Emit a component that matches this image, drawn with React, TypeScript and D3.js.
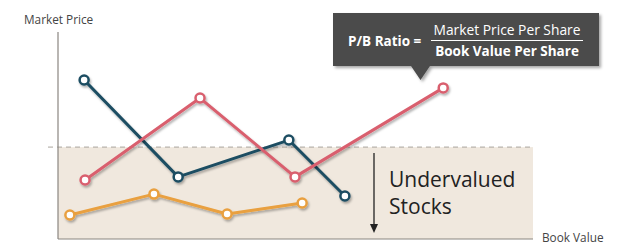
import React from "react";
import * as d3 from "d3";

const W = 620;
const H = 250;

const seriesNames = ["teal", "pink", "orange"];
const tealX = [5.5, 25.3, 48.6, 60.4];
const tealY = [76.8, 30, 47.8, 20.8];
const pinkX = [5.7, 29.9, 49.9, 81.1];
const pinkY = [28.5, 68.1, 30, 73];
const orangeX = [2.5, 20.2, 35.6, 51.4];
const orangeY = [11.6, 21.7, 12.1, 17.4];
const threshold = 44.4;
const colors = ["#1c4d62", "#d95f6e", "#e9a03f"];

const xLabel = "Book Value";
const yLabel = "Market Price";
const zoneLabel = ["Undervalued", "Stocks"];
const formulaLeft = "P/B Ratio =";
const formulaTop = "Market Price Per Share";
const formulaBottom = "Book Value Per Share";

const FONT = "'Open Sans', sans-serif";

export default function App() {
  const x = d3.scaleLinear().domain([0, 100]).range([58, 533]);
  const y = d3.scaleLinear().domain([0, 100]).range([239, 32]);
  const line = d3
    .line<[number, number]>()
    .x((d) => x(d[0]))
    .y((d) => y(d[1]));
  const series = [
    d3.zip(tealX, tealY) as [number, number][],
    d3.zip(pinkX, pinkY) as [number, number][],
    d3.zip(orangeX, orangeY) as [number, number][],
  ];
  const ty = y(threshold);
  return (
    <svg
      width={W}
      height={H}
      style={{ position: "absolute", left: 0, top: 0, background: "#fff" }}
    >
      <defs>
        <filter id="sh" x="-20%" y="-20%" width="140%" height="160%">
          <feDropShadow dx="1.2" dy="2" stdDeviation="1.2" floodColor="#000" floodOpacity="0.3" />
        </filter>
        <filter id="bsh" x="-10%" y="-20%" width="120%" height="160%">
          <feDropShadow dx="2" dy="2" stdDeviation="1.5" floodColor="#000" floodOpacity="0.35" />
        </filter>
      </defs>
      {/* undervalued zone */}
      <rect x={x(0)} y={ty} width={x(100) - x(0)} height={y(0) - ty} fill="#f0e8de" />
      <line x1={48} x2={x(100)} y1={ty} y2={ty} stroke="#aaa49e" strokeDasharray="5,4" strokeWidth={1} />
      {/* axes */}
      <line x1={x(0)} x2={x(0)} y1={y(100)} y2={y(0)} stroke="#8a8580" strokeWidth={1.2} />
      <line x1={x(0)} x2={x(100)} y1={y(0)} y2={y(0)} stroke="#8a8580" strokeWidth={1.2} />
      <text x={24} y={24} fontFamily={FONT} fontSize={11.8} fill="#444">{yLabel}</text>
      <text x={542} y={242} fontFamily={FONT} fontSize={11.8} fill="#444">{xLabel}</text>
      {/* arrow */}
      <line x1={374} x2={374} y1={153} y2={226} stroke="#222" strokeWidth={1.3} />
      <path d="M370,224 L374,233 L378,224 Z" fill="#222" />
      <text fontFamily={FONT} fontSize={21} fill="#222">
        <tspan x={389} y={187}>{zoneLabel[0]}</tspan>
        <tspan x={389} y={214}>{zoneLabel[1]}</tspan>
      </text>
      {/* series */}
      {series.map((s, i) => (
        <g key={seriesNames[i]} filter="url(#sh)">
          <path d={line(s) || ""} fill="none" stroke={colors[i]} strokeWidth={3} strokeLinejoin="round" />
          {s.map((p, j) => (
            <circle key={j} cx={x(p[0])} cy={y(p[1])} r={4.5} fill="#fff" stroke={colors[i]} strokeWidth={2.5} />
          ))}
        </g>
      ))}
      {/* callout */}
      <g filter="url(#bsh)">
        <path d="M333,13 L599,13 L599,66 L430,66 L420.5,80 L411,66 L333,66 Z" fill="#4b4b4b" />
      </g>
      <text x={348} y={46} fontFamily={FONT} fontSize={13.5} fontWeight="bold" fill="#fff">{formulaLeft}</text>
      <text x={507} y={35} textAnchor="middle" fontFamily={FONT} fontSize={13.8} fill="#fff">{formulaTop}</text>
      <line x1={431} x2={583} y1={40.5} y2={40.5} stroke="#fff" strokeWidth={1} />
      <text x={507} y={56} textAnchor="middle" fontFamily={FONT} fontSize={13.5} fontWeight="bold" fill="#fff">{formulaBottom}</text>
    </svg>
  );
}
